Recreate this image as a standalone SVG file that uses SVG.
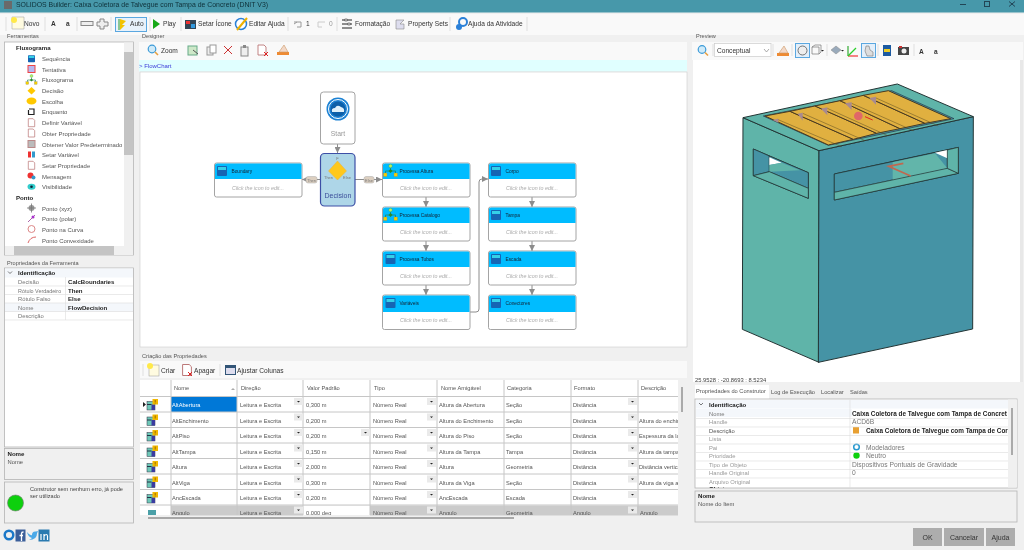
<svg xmlns="http://www.w3.org/2000/svg" width="1024" height="550" viewBox="0 0 1024 550">
<style>
text{font-family:"Liberation Sans",Arial,sans-serif;font-size:6px;fill:#444}
.tb{font-size:6.6px;fill:#333}
.b{font-weight:bold;font-size:6.1px;fill:#222}
.lbl{font-size:5.6px;fill:#555}
.tool{font-size:5.95px;fill:#555}
.tab{font-size:5.7px;fill:#555}
.head{font-size:4.8px;fill:#123}
.hint{font-size:5.3px;font-style:italic;fill:#aaa;text-anchor:middle}
.card{fill:#fff;stroke:#a4a4a4;stroke-width:1}
.hdr{fill:#00bcff}
.wire{fill:none;stroke:#8c8c8c;stroke-width:1}
.pill{fill:#dccfc0;stroke:#aaa;stroke-width:.5}
.pt{font-size:4px;fill:#777;text-anchor:middle}
.gline{stroke:#c6c6c6;stroke-width:1}
.cell{font-size:5.7px;fill:#555}
.gl{stroke:#dcdcdc;stroke-width:.6}
.k{font-size:5.8px;fill:#777}
.v{font-size:6.7px;fill:#777}
.mk{font-size:5.8px;fill:#999}
.panel{fill:#fff;stroke:#b4b4b4;stroke-width:.8}
.gbox{fill:#f0f0f0;stroke:#b4b4b4;stroke-width:.8}
.btn{fill:#adadad}
.btxt{font-size:7px;fill:#333;text-anchor:middle}
.e{stroke:#233;stroke-width:3;stroke-linejoin:round}
</style>
<defs>
<filter id="soft" x="0" y="0" width="100%" height="100%"><feGaussianBlur stdDeviation="0.3"/></filter>
<marker id="ah" viewBox="0 0 6 6" refX="6" refY="3" markerWidth="6" markerHeight="6" markerUnits="userSpaceOnUse" orient="auto"><path d="M0 0L6 3L0 6Z" fill="#8c8c8c"/></marker>
<clipPath id="gridclip"><rect x="140" y="380" width="538" height="135"/></clipPath>
<clipPath id="descclip"><rect x="638" y="380" width="40" height="135"/></clipPath>
<clipPath id="propclip"><rect x="696" y="400" width="312" height="88"/></clipPath>
<g id="seq"><rect x="-5" y="-5" width="10" height="10" rx="1" fill="#1565b4"/><rect x="-4" y="-4" width="8" height="3" fill="#35d0e8"/></g>
<g id="flow"><rect x="-7" y="2" width="3.5" height="3.5" fill="#f5d000" stroke="#777" stroke-width=".3"/><rect x="3.5" y="2" width="3.5" height="3.5" fill="#f5d000" stroke="#777" stroke-width=".3"/><circle cy="-5" r="1.8" fill="#b8f060" stroke="#396" stroke-width=".4"/><path d="M0-3V0M-5 2V0H5V2" fill="none" stroke="#286" stroke-width=".8"/><path d="M-2 0L0-2L2 0L0 2Z" fill="#2a8a2a"/></g>
<g id="tabicon"><rect x="-5.500" y="-3" width="8" height="8.500" fill="#6ec8b8" stroke="#334" stroke-width=".5"/><rect x="-5.500" y="-.5" width="4.500" height="1" fill="#234"/><rect x="-1" y="0" width="3.500" height="5.500" fill="#3a3aa0"/><rect x="0" y="-5.500" width="5.500" height="5.500" fill="#f2b800"/><path d="M2.700-4.500V-2M2.700-1.500V-1" stroke="#7a4a00" stroke-width=".7"/></g>
<g id="doc"><path d="M-4-5H2L4-3V5H-4Z" fill="#fff" stroke="#b77" stroke-width=".9"/></g>
<g id="dd"><rect x="0" y="0" width="9" height="7" fill="#eaeaea"/><path d="M3 3H6L4.500 4.500Z" fill="#222"/></g>
<g id="erase"><path d="M-6 5H6V2H-6Z" fill="#ee8a30"/><path d="M-4 2L1-5L5 2Z" fill="#f2d8c8" stroke="#c96" stroke-width=".6"/></g>
</defs>
<g filter="url(#soft)">
<rect width="1024" height="550" fill="#f0f0f0"/>
<g id="titlebar">
<rect width="1024" height="12.500" fill="#4698aa"/>
<rect x="4" y="1" width="8" height="8" fill="#6b6b6b"/>
<text x="16" y="7" style="font-size:6.9px;fill:#103038">SOLIDOS Builder: Caixa Coletora de Talvegue com Tampa de Concreto (DNIT V3)</text>
<path d="M960 4.500H966" stroke="#245" fill="none"/><rect x="984.500" y="1.500" width="5" height="5" fill="none" stroke="#245"/><path d="M1009 1.500L1015 6.500M1015 1.500L1009 6.500" stroke="#245" fill="none"/>
</g>
<g id="main-toolbar">
<rect y="14" width="1024" height="21" fill="#f9f9f9"/>
<path d="M12 17H24V29H12Z" fill="#fffbe0" stroke="#999" stroke-width=".5"/><circle cx="14" cy="20" r="3" fill="#ffe94a"/>
<text x="24" y="26.300" class="tb">Novo</text>
<text x="51" y="26.300" class="tb" style="font-weight:bold">A</text><text x="66" y="26.300" class="tb" style="font-weight:bold">a</text>
<rect x="81" y="21.500" width="12" height="4" fill="#eee" stroke="#888"/>
<path d="M100 19H104V22H108V26H104V29H100V26H97V22H100Z" fill="#eee" stroke="#888"/>
<rect x="115.500" y="17.500" width="31" height="14" fill="#e8f2fb" stroke="#5aa7e0"/>
<path d="M120 19L126 21L122 25L125 25L120 30Z" fill="#f2c300"/><path d="M119 19V30" stroke="#2a9a2a"/>
<text x="130" y="26.300" class="tb">Auto</text>
<path d="M153 19L160 24L153 29Z" fill="#18a818"/><text x="163" y="26.300" class="tb">Play</text>
<rect x="185" y="20" width="11" height="9" fill="#345"/><rect x="186" y="21" width="4" height="3" fill="#e33"/><rect x="191" y="24" width="4" height="4" fill="#39d"/>
<text x="198" y="26.300" class="tb">Setar Ícone</text>
<circle cx="241" cy="24" r="5.500" fill="#fff" stroke="#2a80d8" stroke-width="1.500"/><path d="M237 30L247 18" stroke="#eeb100" stroke-width="2"/>
<text x="249" y="26.300" class="tb">Editar Ajuda</text>
<path d="M294 22H301V27H297M297 22L294 24" fill="none" stroke="#999"/><text x="306" y="26.300" class="tb">1</text>
<path d="M325 22H318V27H322" fill="none" stroke="#ccc"/><text x="329" y="26.300" class="tb" style="fill:#999">0</text>
<path d="M342 20H352M342 24H352M342 28H352" stroke="#222"/><rect x="345" y="19" width="2" height="2" fill="#fff" stroke="#222" stroke-width=".5"/><rect x="348" y="23" width="2" height="2" fill="#fff" stroke="#222" stroke-width=".5"/>
<text x="355" y="26.300" class="tb">Formatação</text>
<path d="M396 20H404L400 24H404V29H396V24Z" fill="#dde" stroke="#888" stroke-width=".6"/>
<text x="408" y="26.300" class="tb">Property Sets</text>
<circle cx="463" cy="22" r="4" fill="none" stroke="#2a80d8" stroke-width="2"/><circle cx="459" cy="27" r="3" fill="#2a80d8"/>
<text x="468" y="26.300" class="tb">Ajuda da Atividade</text>
<path d="M6 17V31M45 17V31M77 17V31M111 17V31M150 17V31M181 17V31M288 17V31M337 17V31M450 17V31M527 17V31" stroke="#ccc" stroke-width=".6"/>
</g>
<g id="panel-ferramentas">
<text x="7" y="38" class="lbl">Ferramentas</text>
<rect class="panel" x="4.500" y="42" width="129" height="213"/>
<rect x="124" y="42.500" width="9" height="212" fill="#f0f0f0"/><rect x="124" y="52" width="9" height="103" fill="#c4c4c4"/>
<rect x="5" y="246" width="128" height="9" fill="#f0f0f0"/><rect x="14" y="246" width="100" height="9" fill="#c4c4c4"/>
<text x="16" y="50" class="b">Fluxograma</text>
<use href="#seq" transform="translate(31.500,58.700) scale(.7)"/><text x="42" y="61" class="tool">Sequência</text>
<rect x="28" y="65.500" width="7" height="7" fill="#b8b8f0" stroke="#e44"/><text x="42" y="71.500" class="tool">Tentativa</text>
<use href="#flow" transform="translate(31.500,80) scale(.8)"/><text x="42" y="82" class="tool">Fluxograma</text>
<path d="M31.500 87L35.500 90.700L31.500 94.500L27.500 90.700Z" fill="#ffc800"/><text x="42" y="93" class="tool">Decisão</text>
<ellipse cx="31.500" cy="101" rx="5" ry="3.500" fill="#ffc800"/><text x="42" y="103.500" class="tool">Escolha</text>
<path d="M29 109H34V114.500H28.500V110" fill="none" stroke="#222" stroke-width="1.200"/><text x="42" y="114" class="tool">Enquanto</text>
<use href="#doc" transform="translate(31.500,122.700) scale(.8)"/><text x="42" y="125" class="tool">Definir Variável</text>
<use href="#doc" transform="translate(31.500,133) scale(.8)"/><text x="42" y="135.500" class="tool">Obter Propriedade</text>
<rect x="28" y="140.500" width="7" height="7" fill="#bbb" stroke="#b88"/><text x="42" y="146.500" class="tool">Obtener Valor Predeterminado</text>
<rect x="28" y="151.500" width="3" height="6" fill="#e33"/><rect x="32" y="151.500" width="3" height="6" fill="#39c"/><text x="42" y="157" class="tool">Setar Variável</text>
<use href="#doc" transform="translate(31.500,165.300) scale(.8)"/><text x="42" y="167.500" class="tool">Setar Propriedade</text>
<circle cx="30.500" cy="175.500" r="3" fill="#e33"/><circle cx="33.500" cy="177.500" r="2" fill="#39c"/><text x="42" y="178.500" class="tool">Mensagem</text>
<ellipse cx="31.500" cy="186.700" rx="4" ry="3" fill="#3cc"/><circle cx="31.500" cy="186.700" r="1.300" fill="#123"/><text x="42" y="189" class="tool">Visibilidade</text>
<text x="16" y="199.500" class="b">Ponto</text>
<circle cx="31.500" cy="208" r="3" fill="#999"/><path d="M27 208H36M31.500 203.500V212.500" stroke="#777" stroke-width=".8"/><text x="42" y="210.500" class="tool">Ponto (xyz)</text>
<path d="M28 222L35 215" stroke="#a6a"/><circle cx="33" cy="217" r="1.500" fill="#a3c"/><text x="42" y="221" class="tool">Ponto (polar)</text>
<circle cx="31.500" cy="229" r="3.500" fill="none" stroke="#d88"/><text x="42" y="231.500" class="tool">Ponto na Curva</text>
<path d="M28 243Q30 237 36 237" fill="none" stroke="#d66"/><text x="42" y="242.500" class="tool">Ponto Convexidade</text>
</g>
<g id="panel-propriedades-ferramenta">
<text x="7" y="265" class="lbl">Propriedades da Ferramenta</text>
<rect class="panel" x="4.500" y="268" width="129" height="179"/>
<rect x="5" y="268.500" width="128" height="9" fill="#f4f7fb"/>
<path d="M8 271.500L10 273.500L12 271.500" fill="none" stroke="#444" stroke-width=".7"/>
<text x="18" y="274.500" class="b">Identificação</text>
<text x="18" y="284" class="k">Decisão</text><text x="68" y="284" class="b">CalcBoundaries</text>
<text x="18" y="292.500" class="k" style="font-size:5.4px">Rótulo Verdadeiro</text><text x="68" y="292.500" class="b">Then</text>
<text x="18" y="301" class="k">Rótulo Falso</text><text x="68" y="301" class="b">Else</text>
<rect x="5" y="303" width="128" height="8.500" fill="#f4f7fb"/>
<text x="18" y="309.500" class="k">Nome</text><text x="68" y="309.500" class="b">FlowDecision</text>
<text x="18" y="318" class="k">Descrição</text>
<path d="M5 286H133M5 294.500H133M5 303H133M5 311.500H133M5 320H133M65.500 277V320" class="gl"/>
<rect class="gbox" x="4.500" y="448.500" width="129" height="31"/>
<text x="7.500" y="455.500" class="b">Nome</text><text x="7.500" y="463.500" class="k" style="fill:#555">Nome</text>
<rect class="gbox" x="4.500" y="482" width="129" height="41"/>
<text x="30" y="491" style="font-size:5.6px">Construtor sem nenhum erro, já pode</text>
<text x="30" y="498" style="font-size:5.6px">ser utilizado</text>
<circle cx="15.500" cy="503" r="8" fill="#10d010" stroke="#777" stroke-width=".6"/>
</g>
<g id="social">
<circle cx="9" cy="535" r="4.300" fill="none" stroke="#1c78c8" stroke-width="2.500"/>
<rect x="15.500" y="529.500" width="10" height="12" fill="#3b5f9a"/><path d="M21.500 541V533.500Q21.500 532 23.500 532M19.500 535.500H23" fill="none" stroke="#fff" stroke-width="1.300"/>
<path d="M27 532Q30 536 32 535Q32 531 36 531.500L38 531L37 533.500Q37 540 29 540Q31 539 32 538Q28 537 27 532Z" fill="#4ba9e8"/>
<rect x="38.500" y="529.500" width="11" height="12" fill="#2a7ab0"/><path d="M41 534V540M44 540V534M44 536Q47 533 47.500 536V540" fill="none" stroke="#fff" stroke-width="1.200"/>
</g>
<g id="panel-designer">
<text x="142" y="38" class="lbl">Designer</text>
<rect x="139" y="42" width="548" height="18" fill="#f9f9f9"/>
<circle cx="152" cy="49" r="3.800" fill="#cfeaf8" stroke="#3a9ad8" stroke-width="1.200"/><path d="M155 52L158 55" stroke="#e8a040" stroke-width="1.600"/>
<text x="161" y="53" class="tb">Zoom</text>
<rect x="188" y="46" width="9" height="9" fill="#cde8c8" stroke="#6a8"/><path d="M193 50L198 54" stroke="#555"/>
<rect x="207" y="47" width="6" height="8" fill="#eee" stroke="#999"/><rect x="210" y="45" width="6" height="8" fill="#fff" stroke="#999"/>
<path d="M224 46L232 54M232 46L224 54" stroke="#c33"/>
<rect x="241" y="47" width="7" height="9" fill="#eee" stroke="#888"/><rect x="243" y="45" width="3" height="3" fill="#888"/>
<use href="#doc" transform="translate(262,50)"/><path d="M264 52L268 56M268 52L264 56" stroke="#d22"/>
<use href="#erase" transform="translate(283,50)"/>
<rect x="139" y="60" width="548" height="11.500" fill="#e0ffff"/>
<text x="139" y="68" style="fill:#3a3ad8">&gt; FlowChart</text>
<rect x="140" y="72" width="547" height="275" fill="#fff" stroke="#ccc" stroke-width=".6"/>
</g>
<g id="connectors">
<path class="wire" d="M337.500 144V153" marker-end="url(#ah)"/>
<path class="wire" d="M320 179.500H302" marker-end="url(#ah)"/>
<path class="wire" d="M355 179.500H382" marker-end="url(#ah)"/>
<path class="wire" d="M426 197V207" marker-end="url(#ah)"/>
<path class="wire" d="M426 241V251" marker-end="url(#ah)"/>
<path class="wire" d="M426 285V295" marker-end="url(#ah)"/>
<path class="wire" d="M470 312H476Q479 312 479 309V182Q479 179 482 179H488" marker-end="url(#ah)"/>
<path class="wire" d="M532 197V207" marker-end="url(#ah)"/>
<path class="wire" d="M532 241V251" marker-end="url(#ah)"/>
<path class="wire" d="M532 285V295" marker-end="url(#ah)"/>
<rect class="pill" x="306" y="176.500" width="11" height="6.500" rx="2"/><text x="311.500" y="181.500" class="pt">Then</text>
<rect class="pill" x="364" y="176.500" width="10" height="6.500" rx="2"/><text x="369" y="181.500" class="pt">Else</text>
</g>
<g id="node-start">
<rect class="card" x="320.500" y="92" width="34.500" height="52" rx="3"/>
<circle cx="338" cy="109" r="11.500" fill="#1c82d4"/><circle cx="338" cy="109" r="9.500" fill="none" stroke="#fff"/><circle cx="338" cy="109" r="7.500" fill="#0f5ea8"/>
<path d="M332 112Q331 108 335 108Q337 104 341 107Q345 108 344 112Z" fill="#dff0fa"/>
<text x="338" y="136" style="font-size:6.800px;fill:#999;text-anchor:middle">Start</text>
</g>
<g id="node-decision">
<rect x="320.500" y="153.500" width="34.500" height="52.500" rx="4" fill="#aed6e8" stroke="#3c4fa6" stroke-width="1.200"/>
<path d="M337.500 161L346.500 171L337.500 180L328.500 171Z" fill="#ffc81e" stroke="#e8b040" stroke-width=".5"/>
<text x="337.500" y="160" class="pt">F</text><text x="328.500" y="178.500" class="pt">Then</text><text x="347" y="178.500" class="pt">Else</text>
<text x="338" y="198" style="font-size:7px;fill:#3c4f9a;text-anchor:middle">Decision</text>
</g>
<g id="node-boundary"><rect class="card" x="214.500" y="163" width="87.500" height="34" rx="2"/><path class="hdr" d="M215 165Q215 163.500 217 163.500H300Q301.500 163.500 301.500 165V179H215Z"/><use href="#seq" transform="translate(222,171)"/><text class="head" x="231.500" y="172.500">Boundary</text><text class="hint" x="258" y="190">Click the icon to edit...</text></g>
<g id="node-processa-altura"><rect class="card" x="382.500" y="163" width="87.500" height="34" rx="2"/><path class="hdr" d="M383 165Q383 163.500 385 163.500H468Q469.500 163.500 469.500 165V179H383Z"/><use href="#flow" transform="translate(390.500,171)"/><text class="head" x="399.500" y="172.500">Processa Altura</text><text class="hint" x="426" y="190">Click the icon to edit...</text></g>
<g id="node-processa-catalogo"><rect class="card" x="382.500" y="207" width="87.500" height="34" rx="2"/><path class="hdr" d="M383 209Q383 207.500 385 207.500H468Q469.500 207.500 469.500 209V223H383Z"/><use href="#flow" transform="translate(390.500,215)"/><text class="head" x="399.500" y="216.500">Processa Catalogo</text><text class="hint" x="426" y="234">Click the icon to edit...</text></g>
<g id="node-processa-tubos"><rect class="card" x="382.500" y="251" width="87.500" height="34" rx="2"/><path class="hdr" d="M383 253Q383 251.500 385 251.500H468Q469.500 251.500 469.500 253V267H383Z"/><use href="#seq" transform="translate(390.500,259)"/><text class="head" x="399.500" y="260.500">Processa Tubos</text><text class="hint" x="426" y="278">Click the icon to edit...</text></g>
<g id="node-variaveis"><rect class="card" x="382.500" y="295" width="87.500" height="34.500" rx="2"/><path class="hdr" d="M383 297Q383 295.500 385 295.500H468Q469.500 295.500 469.500 297V312H383Z"/><use href="#seq" transform="translate(390.500,303)"/><text class="head" x="399.500" y="304.500">Variáveis</text><text class="hint" x="426" y="322">Click the icon to edit...</text></g>
<g id="node-corpo"><rect class="card" x="488.500" y="163" width="87.500" height="34" rx="2"/><path class="hdr" d="M489 165Q489 163.500 491 163.500H574Q575.500 163.500 575.500 165V179H489Z"/><use href="#seq" transform="translate(496,171)"/><text class="head" x="505.500" y="172.500">Corpo</text><text class="hint" x="532" y="190">Click the icon to edit...</text></g>
<g id="node-tampa"><rect class="card" x="488.500" y="207" width="87.500" height="34" rx="2"/><path class="hdr" d="M489 209Q489 207.500 491 207.500H574Q575.500 207.500 575.500 209V223H489Z"/><use href="#seq" transform="translate(496,215)"/><text class="head" x="505.500" y="216.500">Tampa</text><text class="hint" x="532" y="234">Click the icon to edit...</text></g>
<g id="node-escada"><rect class="card" x="488.500" y="251" width="87.500" height="34" rx="2"/><path class="hdr" d="M489 253Q489 251.500 491 251.500H574Q575.500 251.500 575.500 253V267H489Z"/><use href="#seq" transform="translate(496,259)"/><text class="head" x="505.500" y="260.500">Escada</text><text class="hint" x="532" y="278">Click the icon to edit...</text></g>
<g id="node-conectores"><rect class="card" x="488.500" y="295" width="87.500" height="34.500" rx="2"/><path class="hdr" d="M489 297Q489 295.500 491 295.500H574Q575.500 295.500 575.500 297V312H489Z"/><use href="#seq" transform="translate(496,303)"/><text class="head" x="505.500" y="304.500">Conectores</text><text class="hint" x="532" y="322">Click the icon to edit...</text></g>
<g id="panel-criacao">
<text x="142" y="358" class="lbl">Criação das Propriedades</text>
<rect x="140" y="361" width="547" height="17" fill="#f9f9f9"/>
<rect x="149" y="365" width="10" height="11" fill="#fffbe0" stroke="#999" stroke-width=".5"/><circle cx="150" cy="366" r="3" fill="#ffe94a"/>
<text x="161" y="372.500" class="tb">Criar</text>
<use href="#doc" transform="translate(187,370) scale(1.100)"/><path d="M188 372L192 376M192 372L188 376" stroke="#d22"/>
<text x="194" y="372.500" class="tb">Apagar</text>
<rect x="225" y="365" width="11" height="10" fill="#357"/><rect x="226" y="368" width="9" height="6" fill="#dde"/>
<text x="237" y="372.500" class="tb">Ajustar Colunas</text>
<path d="M143 364V376M220 364V376" stroke="#ccc" stroke-width=".6"/>
<rect x="140" y="380" width="538" height="135" fill="#fff"/>
<rect x="171" y="397" width="66" height="15" fill="#0078d7"/>
<rect x="171" y="505.500" width="507" height="10" fill="#cbcbcb"/><rect x="303" y="505.500" width="67" height="10" fill="#fff"/>
<path class="gline" d="M140 396.500H678M140 412H678M140 427.500H678M140 443H678M140 458.500H678M140 474H678M140 489.500H678M140 505H678"/>
<path class="gline" d="M171 380V515M237 380V515M303 380V515M370 380V515M437 380V515M504 380V515M571 380V515M638 380V515"/>
<g clip-path="url(#gridclip)">
<text x="174" y="390" class="cell">Nome</text><path d="M231 390L233 388L235 390Z" fill="#aaa"/><text x="241" y="390" class="cell">Direção</text><text x="307" y="390" class="cell">Valor Padrão</text><text x="374" y="390" class="cell">Tipo</text><text x="441" y="390" class="cell">Nome Amigável</text><text x="507" y="390" class="cell">Categoria</text><text x="574" y="390" class="cell">Formato</text><text x="641" y="390" class="cell">Descrição</text>
<use href="#tabicon" x="152.500" y="404.500"/><use href="#tabicon" x="152.500" y="420"/><use href="#tabicon" x="152.500" y="435.500"/><use href="#tabicon" x="152.500" y="451"/><use href="#tabicon" x="152.500" y="466.500"/><use href="#tabicon" x="152.500" y="482"/><use href="#tabicon" x="152.500" y="497.500"/>
<path d="M143 402L146 404.500L143 407Z" fill="#222"/>
<rect x="148" y="510" width="8" height="6" fill="#4ba0a8"/>
<g id="rows">
<text x="172" y="407" class="cell" style="fill:#fff">AltAbertura</text><text x="240" y="407" class="cell">Leitura e Escrita</text><text x="306" y="407" class="cell">0,300 m</text><text x="373" y="407" class="cell">Número Real</text><text x="439" y="407" class="cell">Altura da Abertura</text><text x="506" y="407" class="cell">Seção</text><text x="573" y="407" class="cell">Distância</text>
<text x="172" y="422.500" class="cell">AltEnchimento</text><text x="240" y="422.500" class="cell">Leitura e Escrita</text><text x="306" y="422.500" class="cell">0,200 m</text><text x="373" y="422.500" class="cell">Número Real</text><text x="439" y="422.500" class="cell">Altura do Enchimento</text><text x="506" y="422.500" class="cell">Seção</text><text x="573" y="422.500" class="cell">Distância</text>
<text x="172" y="438" class="cell">AltPiso</text><text x="240" y="438" class="cell">Leitura e Escrita</text><text x="306" y="438" class="cell">0,200 m</text><text x="373" y="438" class="cell">Número Real</text><text x="439" y="438" class="cell">Altura do Piso</text><text x="506" y="438" class="cell">Seção</text><text x="573" y="438" class="cell">Distância</text>
<text x="172" y="453.500" class="cell">AltTampa</text><text x="240" y="453.500" class="cell">Leitura e Escrita</text><text x="306" y="453.500" class="cell">0,150 m</text><text x="373" y="453.500" class="cell">Número Real</text><text x="439" y="453.500" class="cell">Altura da Tampa</text><text x="506" y="453.500" class="cell">Tampa</text><text x="573" y="453.500" class="cell">Distância</text>
<text x="172" y="469" class="cell">Altura</text><text x="240" y="469" class="cell">Leitura e Escrita</text><text x="306" y="469" class="cell">2,000 m</text><text x="373" y="469" class="cell">Número Real</text><text x="439" y="469" class="cell">Altura</text><text x="506" y="469" class="cell">Geometria</text><text x="573" y="469" class="cell">Distância</text>
<text x="172" y="484.500" class="cell">AltViga</text><text x="240" y="484.500" class="cell">Leitura e Escrita</text><text x="306" y="484.500" class="cell">0,300 m</text><text x="373" y="484.500" class="cell">Número Real</text><text x="439" y="484.500" class="cell">Altura da Viga</text><text x="506" y="484.500" class="cell">Seção</text><text x="573" y="484.500" class="cell">Distância</text>
<text x="172" y="500" class="cell">AncEscada</text><text x="240" y="500" class="cell">Leitura e Escrita</text><text x="306" y="500" class="cell">0,200 m</text><text x="373" y="500" class="cell">Número Real</text><text x="439" y="500" class="cell">AncEscada</text><text x="506" y="500" class="cell">Escada</text><text x="573" y="500" class="cell">Distância</text>
<text x="172" y="514.500" class="cell">Angulo</text><text x="240" y="514.500" class="cell">Leitura e Escrita</text><text x="306" y="514.500" class="cell">0,000 deg</text><text x="373" y="514.500" class="cell">Número Real</text><text x="439" y="514.500" class="cell">Angulo</text><text x="506" y="514.500" class="cell">Geometria</text><text x="573" y="514.500" class="cell">Angulo</text><text x="640" y="514.500" class="cell">Angulo</text>
<g clip-path="url(#descclip)"><text x="639" y="422.500" class="cell">Altura do enchimento</text><text x="639" y="438" class="cell">Espessura da laje</text><text x="639" y="453.500" class="cell">Altura da tampa</text><text x="639" y="469" class="cell">Distância vertical</text><text x="639" y="484.500" class="cell">Altura da viga a</text></g>
</g>
<g id="dropdowns">
<use href="#dd" x="294" y="398"/><use href="#dd" x="294" y="413.500"/><use href="#dd" x="294" y="429"/><use href="#dd" x="294" y="444.500"/><use href="#dd" x="294" y="460"/><use href="#dd" x="294" y="475.500"/><use href="#dd" x="294" y="491"/><use href="#dd" x="294" y="506.500"/>
<use href="#dd" x="361" y="429"/>
<use href="#dd" x="427" y="398"/><use href="#dd" x="427" y="413.500"/><use href="#dd" x="427" y="429"/><use href="#dd" x="427" y="444.500"/><use href="#dd" x="427" y="460"/><use href="#dd" x="427" y="475.500"/><use href="#dd" x="427" y="491"/><use href="#dd" x="427" y="506.500"/>
<use href="#dd" x="628" y="398"/><use href="#dd" x="628" y="413.500"/><use href="#dd" x="628" y="429"/><use href="#dd" x="628" y="444.500"/><use href="#dd" x="628" y="460"/><use href="#dd" x="628" y="475.500"/><use href="#dd" x="628" y="491"/><use href="#dd" x="628" y="506.500"/>
</g>
</g>
<rect x="678" y="380" width="9" height="135" fill="#f0f0f0"/><rect x="681" y="387" width="2" height="25" fill="#aaa"/>
<rect x="148" y="517" width="366" height="2" fill="#a8a8a8"/>
</g>
<g id="panel-preview">
<text x="696" y="38" class="lbl">Preview</text>
<rect x="692" y="42" width="331" height="18" fill="#f9f9f9"/>
<circle cx="702" cy="49.500" r="3.800" fill="#cfeaf8" stroke="#3a9ad8" stroke-width="1.200"/><path d="M705 52.500L708 55.500" stroke="#e8a040" stroke-width="1.600"/>
<rect x="714.500" y="43.500" width="56.500" height="13" fill="#fff" stroke="#ccc" stroke-width=".7"/>
<text x="717" y="53" class="tb">Conceptual</text><path d="M764 49L766.500 52L769 49" fill="none" stroke="#888" stroke-width=".7"/>
<use href="#erase" transform="translate(783,51)"/>
<rect x="795.500" y="43.500" width="14" height="14" fill="#e3effa" stroke="#5aa7e0"/><circle cx="802.500" cy="50.500" r="4.500" fill="#eee" stroke="#555" stroke-width=".8"/>
<path d="M812 47H819V54H812ZM812 47L815 45H821V52L819 54" fill="none" stroke="#777" stroke-width=".7"/><path d="M821 50H824L822.500 51.500Z" fill="#222"/>
<path d="M831 50L836 46L841 50L836 54Z" fill="#9ab" stroke="#888" stroke-width=".5"/><path d="M841 50H844L842.500 51.500Z" fill="#222"/>
<path d="M848 56V46" stroke="#3a3" stroke-width="1.200"/><path d="M848 56H858" stroke="#e33" stroke-width="1.200"/><path d="M848 56L856 48" stroke="#2ad02a" stroke-width="1.200"/>
<rect x="861.500" y="43.500" width="14" height="14" fill="#e3effa" stroke="#5aa7e0"/><path d="M866 46L869 46L870 50L873 52V56H867L865 51Z" fill="#ddd" stroke="#777" stroke-width=".6"/>
<rect x="883" y="45" width="8" height="11" fill="#1a5aa0"/><rect x="884" y="49" width="6" height="3" fill="#eecc20"/>
<rect x="898" y="47" width="11" height="8" fill="#444"/><circle cx="904" cy="51" r="2.500" fill="#eee"/><rect x="899" y="46" width="3" height="2" fill="#c33"/>
<text x="919" y="53.500" class="tb" style="font-weight:bold">A</text><text x="934" y="53.500" class="tb" style="font-weight:bold">a</text>
<path d="M713 44V56M773 44V56M792 44V56M827 44V56M878 44V56M914 44V56" stroke="#ccc" stroke-width=".6"/>
<rect x="693" y="60" width="327" height="322" fill="#fff"/>
<rect x="1020" y="60" width="3" height="322" fill="#e8e8e8"/>
<text x="695" y="381.500" style="font-size:5.8px">25.9528 : -20.8693 : 8.5234</text>
<g id="model" transform="translate(700,70) scale(.33333)">
<path class="e" d="M129 143L357 242V877L127 778Z" fill="#5fb4a9"/>
<path class="e" d="M357 242L820 140L818 777L355 877Z" fill="#4593a5"/>
<path class="e" d="M129 143L592 42L820 140L357 242Z" fill="#5fb4a9"/>
<path d="M190 138L575 62L762 146L385 226Z" fill="#4593a5" stroke="#234" stroke-width="2"/>
<g id="planks" fill="#e0b040" stroke="#4a3a20" stroke-width="3">
<path d="M195 138L270 124L460 208L385 225Z"/>
<path d="M270 124L345 108L530 190L460 208Z"/>
<path d="M345 108L420 92L600 176L530 190Z"/>
<path d="M420 92L490 76L675 160L600 176Z"/>
<path d="M490 76L565 62L752 146L675 160Z"/>
</g>
<g fill="none" stroke="#5a4a20" stroke-width="1.500"><path d="M232 148L425 230"/><path d="M308 130L495 212"/><path d="M382 115L565 198"/><path d="M455 100L640 182"/><path d="M528 84L715 168"/></g>
<g fill="#a88a90"><path d="M218 150L235 146V158Z"/><path d="M293 131L308 128V152Z"/><path d="M363 116L382 112V136Z"/><path d="M435 100L455 97V120Z"/><path d="M508 84L528 80V104Z"/></g>
<path d="M495 140L518 150" stroke="#e02020" stroke-width="3"/>
<circle cx="475" cy="138" r="13" fill="#e06868"/>
<path class="e" d="M160 237L325 308V385L160 317Z" fill="#5fb4a9" stroke-width="2.500"/>
<path d="M160 237L208 258V305L160 317Z" fill="#4593a5" stroke="#233" stroke-width="2"/>
<path d="M208 258L325 308V355L208 305Z" fill="#4593a5" stroke="#233" stroke-width="2"/>
<path d="M208 262L245 278L208 285Z" fill="#fff"/>
<path d="M208 285L245 278L300 301L208 305Z" fill="#5fb4a9"/>
<path d="M208 305L325 355V385L160 317Z" fill="#5fb4a9" stroke="#233" stroke-width="2"/>
<path class="e" d="M403 312L775 232V310L403 390Z" fill="#5fb4a9" stroke-width="2.500"/>
<path d="M403 312L742 240V295L403 367Z" fill="#4593a5" stroke="#233" stroke-width="2"/>
<path d="M578 277L705 250L742 295L578 330Z" fill="#62b5aa"/>
<path d="M705 248L742 240V265Z" fill="#fff"/>
<path d="M403 367L742 295L775 310L403 390Z" fill="#5fb4a9" stroke="#233" stroke-width="2"/>
<path d="M742 240L775 232V310L742 295Z" fill="#5fb4a9" stroke="#233" stroke-width="2"/>
<path d="M632 318L566 289L610 280" fill="none" stroke="#c06850" stroke-width="5"/>
</g>
</g>
<g id="panel-construtor">
<rect x="695" y="385" width="74" height="14" fill="#fff"/>
<text x="696" y="393" class="tab">Propriedades do Construtor</text>
<text x="771" y="394" class="tab">Log de Execução</text>
<text x="821" y="394" class="tab">Localizar</text>
<text x="850" y="394" class="tab">Saídas</text>
<rect class="panel" x="695" y="399" width="322" height="89"/>
<rect x="696" y="400" width="312" height="8.500" fill="#f4f7fb"/>
<rect x="696" y="409" width="156" height="8" fill="#f4f7fb"/>
<g clip-path="url(#propclip)">
<path d="M699 403L701 405L703 403" fill="none" stroke="#444" stroke-width=".7"/>
<text x="709" y="406.500" class="b">Identificação</text>
<text x="709" y="415.500" class="k">Nome</text>
<text x="709" y="424" class="mk">Handle</text><text x="852" y="424" class="v">ACD6B</text>
<text x="709" y="432.500" class="k" style="fill:#555">Descrição</text>
<text x="709" y="441" class="mk">Lista</text>
<text x="709" y="449.500" class="mk">Pai</text><circle cx="856.500" cy="447" r="2.800" fill="none" stroke="#2a9ad0" stroke-width="1.500"/><text x="866" y="449.500" class="v">Modeladores</text>
<text x="709" y="458" class="mk">Prioridade</text><circle cx="856.500" cy="455.500" r="3.200" fill="#10d010"/><text x="866" y="458" class="v">Neutro</text>
<text x="709" y="466.500" class="mk">Tipo de Objeto</text><text x="852" y="466.500" class="v">Dispositivos Pontuais de Gravidade</text>
<text x="709" y="475" class="mk">Handle Original</text><text x="852" y="475" class="v">0</text>
<text x="709" y="483.500" class="mk">Arquivo Original</text>
<text x="709" y="491" class="b">Objeto</text>
<rect x="853" y="427" width="6" height="6.500" fill="#e8a030"/>
<text x="852" y="415.500" class="b" style="font-size:6.4px">Caixa Coletora de Talvegue com Tampa de Concret</text>
<text x="866" y="432.500" class="b" style="font-size:6.4px">Caixa Coletora de Talvegue com Tampa de Cor</text>
<path d="M696 418.500H1008M696 427H1008M696 435.500H1008M696 444H1008M696 452.500H1008M696 461H1008M696 469.500H1008M696 478H1008M850 400V488" class="gl"/>
</g>
<rect x="1008" y="399.500" width="9" height="88" fill="#f0f0f0"/><rect x="1011" y="408" width="2" height="47" fill="#aaa"/>
<rect class="gbox" x="695" y="491" width="322" height="31"/>
<text x="698" y="498" class="b">Nome</text><text x="698" y="506" class="k" style="fill:#555">Nome do Item</text>
</g>
<g id="buttons">
<rect class="btn" x="913" y="528" width="29" height="18"/><text x="927.500" y="540" class="btxt">OK</text>
<rect class="btn" x="944" y="528" width="40" height="18"/><text x="964" y="540" class="btxt">Cancelar</text>
<rect class="btn" x="986" y="528" width="29" height="18"/><text x="1000.500" y="540" class="btxt">Ajuda</text>
</g>
</g>
</svg>
